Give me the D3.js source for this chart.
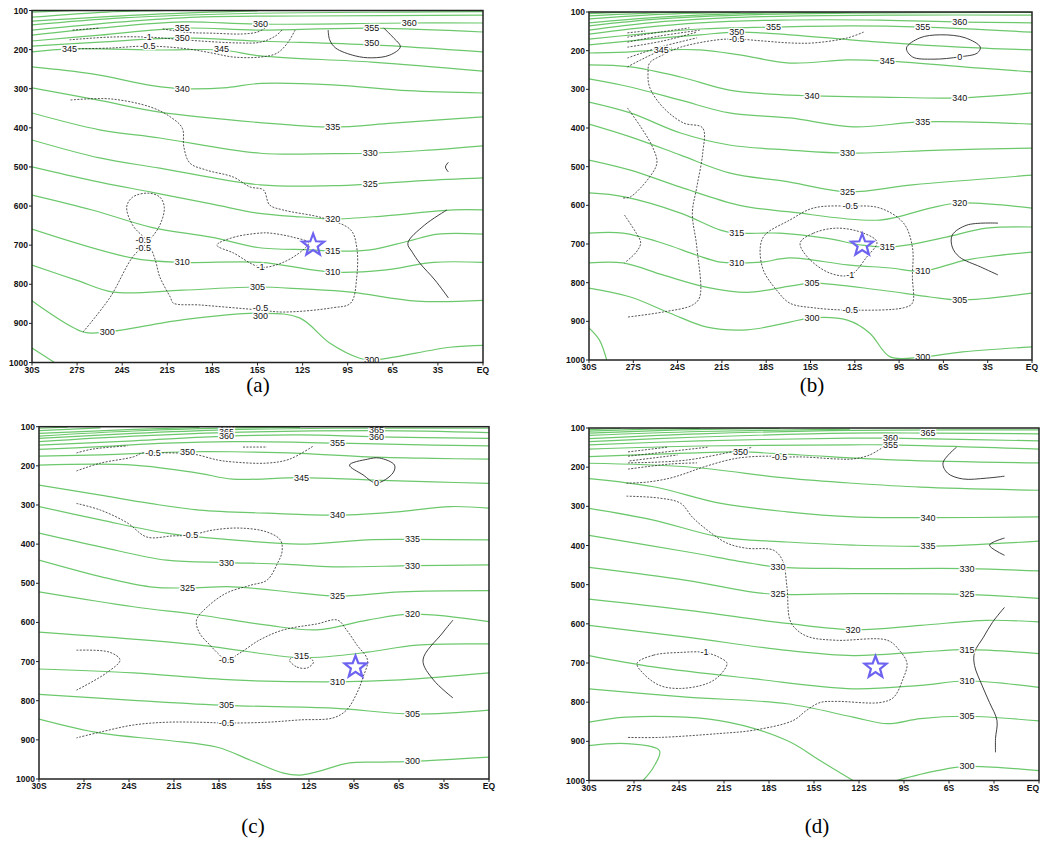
<!DOCTYPE html>
<html><head><meta charset="utf-8">
<script src="https://cdn.jsdelivr.net/npm/d3@7"></script>
<style>body{margin:0;background:#fff;} svg{display:block;}</style>
</head><body>
<svg id="chart" width="1041" height="841"></svg>
<script>
// ---------- axes ----------
const latTicks = [-30,-27,-24,-21,-18,-15,-12,-9,-6,-3,0];
const presTicks = [100,200,300,400,500,600,700,800,900,1000];
const panelNames = ["(a)","(b)","(c)","(d)"];

// ---------- panel (a) ----------
const thetaA = [
 {v:385, pts:[[-30,104],[-27,100]]},
 {v:380, pts:[[-30,117],[-25,104],[-21,100]]},
 {v:375, pts:[[-30,127],[-22,110],[-15,101]]},
 {v:370, pts:[[-30,137],[-24,119],[-15,107],[-5,104],[0,103]]},
 {v:365, pts:[[-30,150],[-24,129],[-19,117],[-12,114],[0,112]]},
 {v:360, pts:[[-30,163],[-25.5,145],[-20,129],[-15,135],[-5,132],[0,132]]},
 {v:355, pts:[[-30,178],[-25.5,163],[-20,145],[-15,150],[-7.4,145],[0,155]]},
 {v:350, pts:[[-30,191],[-25.5,181],[-20,170],[-15,178],[-7.4,188],[0,206]]},
 {v:345, pts:[[-30,206],[-27.5,198],[-21.5,201],[-17.4,201],[-14.8,216],[-7.4,232],[0,255]]},
 {v:340, pts:[[-30,244],[-26,262],[-22,292],[-20,300],[-17,297],[-15,287],[-10,290],[-5,305],[0,311]]},
 {v:335, pts:[[-30,298],[-25.5,330],[-21.5,360],[-15,386],[-10,398],[-6,388],[0,372]]},
 {v:330, pts:[[-30,362],[-25.5,405],[-21.5,426],[-14.8,465],[-10,466],[-7.5,465],[-4,458],[0,446]]},
 {v:325, pts:[[-30,431],[-25.5,477],[-21.5,503],[-14.8,546],[-10,548],[-7.5,544],[-4,535],[0,528]]},
 {v:320, pts:[[-30,500],[-26,535],[-22,565],[-18,595],[-15,618],[-12,628],[-10,633],[-6.5,625],[-2,610],[0,610]]},
 {v:315, pts:[[-30,572],[-26,610],[-22,655],[-18,680],[-15,706],[-11.5,712],[-10,715],[-7.5,712],[-5,690],[-3,672],[0,672]]},
 {v:310, pts:[[-30,659],[-23.3,733],[-20,744],[-14.8,744],[-10,769],[-6.6,764],[-3.3,744],[0,744]]},
 {v:305, pts:[[-30,751],[-27,790],[-24.6,820],[-20,815],[-15,807],[-12,812],[-8.8,820],[-4.4,843],[0,841]]},
 {v:300, pts:[[-30,842],[-26.6,922],[-25,922],[-20,891],[-14.8,874],[-12.2,886],[-10.2,950],[-8.2,989],[-7.4,994],[-2.2,961],[0,956]]},
 {v:295, pts:[[-30,963],[-28.5,1000]]}
];
const anomA = [
 {v:-0.5, pts:[[-26.6,922],[-24.8,833],[-23.3,730],[-22.3,692],[-21.5,649],[-21.2,603],[-21.5,577],[-22.3,567],[-23.3,577],[-23.7,602],[-23.3,649],[-22.3,692],[-21.8,738],[-21.5,781],[-20.8,833],[-20.6,848],[-18.8,853],[-14.8,866],[-13.3,871],[-10,860],[-8.8,848],[-8.4,782],[-8.4,705],[-8.8,661],[-10.6,631],[-13.3,610],[-14.2,597],[-14.6,559],[-15.5,551],[-16.6,526],[-18.4,508],[-19.5,490],[-19.9,449],[-20,401],[-20.8,372],[-22.1,347],[-24.8,326],[-27.5,329]]},
 {v:-1, closed:true, pts:[[-17.7,700],[-16.6,680],[-14.8,669],[-14.2,669],[-12.6,680],[-11.6,694],[-12,713],[-13.3,744],[-14.8,756],[-16.6,720]]},
 {v:-1.5, pts:[[-27.3,150],[-25.5,145]]},
 {v:-1.5, pts:[[-21.3,147],[-19.7,156],[-18,158],[-16,160],[-15,155],[-14.5,145]]},
 {v:-1, pts:[[-27.5,175],[-24.8,168],[-22.3,168],[-20.5,173],[-18.8,178],[-16.2,183],[-14.8,181],[-13.8,165],[-13.3,147]]},
 {v:-0.5, pts:[[-26.9,198],[-24.8,196],[-22.3,191],[-19.7,198],[-18,209],[-16.6,219],[-14.8,219],[-13.7,209],[-13,183],[-12.5,150]]},
 {v:0, pts:[[-10.3,150],[-10.2,175],[-9.8,196],[-8.5,216],[-7.4,221],[-6.2,214],[-5.5,193],[-6,168],[-6.6,145]]},
 {v:0, pts:[[-2.3,488],[-2.5,500],[-2.3,513]]},
 {v:0, pts:[[-2.4,610],[-3.9,649],[-5,695],[-4.7,718],[-4.2,746],[-3.2,789],[-2.3,835]]}
];
const labelsA = [
 ["355",-20,145],["350",-20,170],["345",-27.5,198],["345",-17.4,198],["360",-14.8,135],["355",-7.4,145],["350",-7.4,183],["360",-4.9,132],
 ["-1",-22.3,168],["-0.5",-22.3,191],
 ["340",-20,301],["335",-10,398],["330",-7.5,464],["325",-7.5,544],["320",-10,633],["315",-10,715],["310",-20,744],["310",-10,769],
 ["305",-15,807],["300",-25,922],["-0.5",-14.8,860],["300",-14.8,880],["300",-7.4,994],["-1",-14.8,756],["-0.5",-22.6,688],["-0.5",-22.6,708]
];
const starA = [-11.3,700];

// ---------- panel (b) ----------
const thetaB = [
 {v:390, pts:[[-30,104],[-27.2,100]]},
 {v:385, pts:[[-30,110],[-25.9,103],[-22.5,100]]},
 {v:380, pts:[[-30,118],[-25.2,106],[-19.8,101]]},
 {v:375, pts:[[-30,128],[-25.2,113],[-19.8,104],[-12.3,101]]},
 {v:370, pts:[[-30,136],[-25.2,118],[-19.8,108],[-12.3,103],[0,101]]},
 {v:365, pts:[[-30,147],[-25.9,128],[-21.1,116],[-15.7,110],[-8.9,108],[0,108]]},
 {v:360, pts:[[-30,157],[-26.5,141],[-22.5,128],[-17.1,121],[-10.3,121],[-4.9,126],[0,128]]},
 {v:355, pts:[[-30,170],[-26.5,157],[-22.5,144],[-17.5,139],[-12.3,136],[-7.4,139],[0,152]]},
 {v:350, pts:[[-30,185],[-26.5,172],[-22.5,159],[-20,152],[-16.4,159],[-10.3,178],[-4.9,191],[0,198]]},
 {v:345, pts:[[-30,206],[-27.2,203],[-25.1,198],[-22.5,198],[-19.8,211],[-16.4,232],[-12.5,224],[-9.8,227],[-3.5,245],[0,255]]},
 {v:340, pts:[[-30,237],[-27.2,242],[-23.8,268],[-20.5,302],[-16.4,315],[-14.9,317],[-10.3,320],[-4.9,322],[0,309]]},
 {v:335, pts:[[-30,273],[-27.2,294],[-23.8,328],[-20.5,361],[-16.4,374],[-12.1,397],[-7.4,384],[0,390]]},
 {v:330, pts:[[-30,333],[-27.2,361],[-23.8,413],[-20.5,444],[-16.4,457],[-12.5,465],[-6.2,457],[0,452]]},
 {v:325, pts:[[-30,390],[-27.2,423],[-23.8,470],[-20.5,516],[-16.4,540],[-12.5,565],[-8.1,547],[0,522]]},
 {v:320, pts:[[-30,483],[-27.2,509],[-23.8,553],[-19.8,600],[-16.4,617],[-10.3,638],[-6.9,607],[-4.9,594],[0,607]]},
 {v:315, pts:[[-30,568],[-27.6,578],[-23.8,620],[-21.1,664],[-20,672],[-17.1,672],[-14,685],[-11.5,703],[-9.8,708],[-8.5,703],[-5.8,682],[-3.1,659],[0,656]]},
 {v:310, pts:[[-30,672],[-27.7,672],[-25,698],[-22.7,729],[-21.1,747],[-20,749],[-18.3,747],[-16.4,736],[-12.5,754],[-9.6,762],[-7.4,770],[-4.4,741],[0,721]]},
 {v:305, pts:[[-30,749],[-27.7,749],[-25,780],[-22,812],[-19.3,825],[-16.4,809],[-14.9,801],[-10.3,819],[-6.9,837],[-4.9,845],[0,827]]},
 {v:300, pts:[[-30,814],[-27.2,837],[-24.5,879],[-22,915],[-19.3,922],[-16.4,902],[-14.9,891],[-12.5,897],[-11,930],[-9.6,992],[-7.4,992],[-4.7,979],[0,966]]},
 {v:295, pts:[[-30,917],[-29.3,948],[-28.8,1000]]}
];
const anomB = [
 {v:-0.5, pts:[[-11.4,152],[-12.5,167],[-14.8,180],[-16.4,180],[-18.2,175],[-20,170],[-21.3,172],[-23.8,191],[-25,211],[-25.9,232],[-26,255],[-25.9,294],[-25,346],[-23.6,387],[-22.3,400],[-22.3,465],[-22.7,553],[-23,620],[-22.7,708],[-22.5,837],[-23,858],[-25,876],[-27.4,889]]},
 {v:-0.5, pts:[[-27.4,242],[-26.5,224],[-25.5,206],[-24.4,193]]},
 {v:-1, pts:[[-27.4,154],[-26.2,149]]},
 {v:-1, pts:[[-27.4,165],[-25.2,152],[-23.2,141]]},
 {v:-1, pts:[[-27.4,178],[-25.2,162],[-22.5,147]]},
 {v:-1, pts:[[-27.4,191],[-25,175],[-22.7,152]]},
 {v:-1, pts:[[-27.4,219],[-25.2,191],[-22.7,167]]},
 {v:-0.5, pts:[[-27.4,348],[-26.5,397],[-25.7,449],[-25.4,490],[-25.9,527],[-27.2,578],[-27.7,581]]},
 {v:-0.5, pts:[[-27.6,625],[-26.8,672],[-26.5,697],[-26.8,721],[-27.6,749]]},
 {v:-0.5, closed:true, pts:[[-14.8,607],[-12.3,602],[-10.3,607],[-8.7,646],[-8.1,708],[-8.1,785],[-8.1,853],[-8.7,865],[-12.3,871],[-14.8,865],[-16.4,853],[-17.3,819],[-18.2,767],[-18.4,708],[-18.1,677],[-16.4,638]]},
 {v:-1, closed:true, pts:[[-15.7,697],[-14.8,672],[-13.2,659],[-11.4,672],[-10.5,695],[-11.2,734],[-12.3,780],[-13.7,775],[-15.2,734]]},
 {v:0, closed:true, pts:[[-8.5,193],[-7.6,167],[-6.2,159],[-4.5,167],[-3.5,191],[-3.7,206],[-4.9,216],[-6.7,222],[-8.1,216]]},
 {v:0, pts:[[-2.3,646],[-4.4,651],[-5.4,677],[-5.4,708],[-4.9,734],[-3.5,759],[-2.3,780]]}
];
const labelsB = [
 ["345",-25.1,198],["345",-9.8,227],["340",-14.9,317],["340",-4.9,322],["335",-7.4,384],["330",-12.5,465],["325",-12.5,565],["320",-4.9,594],
 ["315",-20,672],["315",-9.8,708],["310",-20,749],["310",-7.4,770],["305",-14.9,801],["305",-4.9,845],["300",-14.9,891],["300",-7.4,992],
 ["350",-20,152],["-0.5",-20,170],["355",-17.5,139],["355",-7.4,139],["360",-4.9,126],["0",-4.9,216],["-0.5",-12.3,602],["-1",-12.3,780],["-0.5",-12.3,871]
];
const starB = [-11.5,703];

// ---------- panel (c) ----------
const thetaC = [
 {v:390, pts:[[-30,104],[-28.1,101]]},
 {v:385, pts:[[-30,110],[-25.9,103]]},
 {v:380, pts:[[-30,117],[-23.7,107],[-19.3,102]]},
 {v:375, pts:[[-30,124],[-23.7,111],[-17.1,103],[-12.6,102]]},
 {v:370, pts:[[-30,130],[-23.7,117],[-17.5,108],[-10.4,104],[0,104]]},
 {v:365, pts:[[-30,138],[-23.7,124],[-17.5,115],[-7.5,110],[0,115]]},
 {v:360, pts:[[-30,147],[-23.7,136],[-17.5,124],[-12.6,121],[-7.5,126],[0,130]]},
 {v:355, pts:[[-30,158],[-25.9,151],[-21.5,142],[-17.1,138],[-10.1,142],[-3.7,147],[0,149]]},
 {v:350, pts:[[-30,175],[-25.9,172],[-20.1,164],[-17.1,164],[-12.6,168],[-8.1,177],[-3.7,181],[0,183]]},
 {v:345, pts:[[-30,198],[-23.7,198],[-19.3,219],[-17.1,234],[-12.5,230],[-8.1,236],[-3.7,241],[0,245]]},
 {v:340, pts:[[-30,249],[-25.9,275],[-22.6,296],[-19.3,313],[-14.8,321],[-10.1,326],[-5.9,317],[-2.6,304],[0,308]]},
 {v:335, pts:[[-30,304],[-25.9,338],[-21.5,372],[-17.1,389],[-12.6,400],[-8.1,389],[-5.1,388],[0,389]]},
 {v:330, pts:[[-30,372],[-25.9,407],[-21.5,441],[-17.5,447],[-13.7,451],[-10.4,458],[-5.1,455],[0,453]]},
 {v:325, pts:[[-30,441],[-25.9,483],[-22.6,509],[-20.1,512],[-17.1,509],[-12.6,525],[-10.1,533],[-5.9,522],[0,519]]},
 {v:320, pts:[[-30,522],[-23.7,560],[-19.3,581],[-14.8,607],[-11.5,619],[-8.1,594],[-5.1,579],[0,598]]},
 {v:315, pts:[[-30,625],[-19.3,658],[-13.1,689],[-11.3,689],[-8.1,676],[-4.8,658],[0,655]]},
 {v:310, pts:[[-30,719],[-23.7,729],[-17.1,747],[-10.1,752],[-5.9,747],[0,729]]},
 {v:305, pts:[[-30,784],[-23.7,799],[-17.5,812],[-10.4,819],[-5.1,834],[0,824]]},
 {v:300, pts:[[-30,847],[-25.9,883],[-21.5,901],[-18.1,919],[-15.9,952],[-13.7,985],[-12.6,990],[-11.5,982],[-9.3,959],[-7.1,957],[-5.1,955],[0,944]]}
];
const anomC = [
 {v:-1, pts:[[-27.5,167],[-26.4,157],[-24.1,149]]},
 {v:-0.5, pts:[[-27.5,213],[-25.9,193],[-23.7,177],[-23.1,167],[-22.4,167],[-21.1,167],[-19.7,170],[-18.1,185],[-17.1,190],[-14.8,193],[-13.3,183],[-11.7,149]]},
 {v:-1, pts:[[-16.4,152],[-14.8,152]]},
 {v:0, closed:true, pts:[[-9.3,198],[-8.1,183],[-7.3,180],[-6.3,198],[-6.4,218],[-7.5,244],[-8.4,223]]},
 {v:-0.5, pts:[[-27.5,296],[-25.9,313],[-24.1,346],[-22.8,382],[-21.1,379],[-19.9,377],[-18.4,364],[-16.6,359],[-14.8,369],[-13.9,390],[-13.8,420],[-14.1,449],[-14.8,492],[-15.9,505],[-17.5,525],[-18.8,561],[-19.5,594],[-19.3,627],[-18.6,658],[-18.1,678],[-17.5,696],[-16.6,678],[-15.3,645],[-13.7,619],[-11.5,604],[-10.1,594],[-9.5,619],[-8.8,658],[-8.1,696],[-8.4,740],[-8.8,780],[-9.5,824],[-10.4,844],[-12.6,849],[-14.8,855],[-17.5,857],[-19.3,855],[-21.5,855],[-23.7,862],[-25.9,880],[-27.5,895]]},
 {v:-1, closed:true, pts:[[-13.3,696],[-12.8,714],[-12.1,716],[-11.7,701],[-12.1,688],[-12.8,686]]},
 {v:-0.5, pts:[[-27.5,671],[-25.3,676],[-24.6,696],[-25.5,729],[-27.5,773]]},
 {v:0, pts:[[-2.4,594],[-3.1,627],[-4.4,696],[-3.7,747],[-2.4,793]]}
];
const labelsC = [
 ["370",-17.5,104],["365",-17.5,114],["360",-17.5,124],["365",-7.5,109],["360",-7.5,127],["355",-10.1,142],["350",-20.1,164],["-0.5",-22.4,167],
 ["345",-12.5,230],["0",-7.5,244],["340",-10.1,326],["335",-5.1,388],["-0.5",-19.9,377],["330",-17.5,447],["330",-5.1,455],["325",-20.1,512],
 ["325",-10.1,533],["320",-5.1,579],["315",-12.5,686],["-0.5",-17.5,696],["310",-10.1,752],["305",-17.5,812],["305",-5.1,834],["-0.5",-17.5,857],["300",-5.1,955]
];
const starC = [-8.9,714];

// ---------- panel (d) ----------
const thetaD = [
 {v:390, pts:[[-30,104],[-27.9,101]]},
 {v:385, pts:[[-30,108],[-25.9,103],[-22.6,101]]},
 {v:380, pts:[[-30,113],[-23.9,105],[-17.3,101]]},
 {v:375, pts:[[-30,119],[-22.6,109],[-12.6,103]]},
 {v:370, pts:[[-30,127],[-22.6,115],[-12.6,106],[0,105]]},
 {v:365, pts:[[-30,135],[-22.6,123],[-12.6,113],[-7.4,113],[0,115]]},
 {v:360, pts:[[-30,143],[-22.6,133],[-12.6,126],[-9.9,126],[0,133]]},
 {v:355, pts:[[-30,154],[-22.6,146],[-12.6,143],[-9.9,143],[0,154]]},
 {v:350, pts:[[-30,173],[-23.5,164],[-19.9,161],[-15.9,169],[-9.3,182],[0,189]]},
 {v:345, pts:[[-30,190],[-23.5,199],[-16.8,228],[-12.4,241],[-7.9,251],[0,259]]},
 {v:340, pts:[[-30,229],[-25.7,250],[-21.3,292],[-16.8,314],[-12.4,327],[-7.4,329],[0,327]]},
 {v:335, pts:[[-30,305],[-25.7,335],[-21.3,378],[-16.8,391],[-12.4,399],[-7.4,402],[0,389]]},
 {v:330, pts:[[-30,374],[-23.5,416],[-19.1,446],[-17.4,455],[-12.4,459],[-4.8,459],[0,465]]},
 {v:325, pts:[[-30,456],[-23.5,489],[-19.1,519],[-17.4,525],[-12.4,523],[-4.8,525],[0,535]]},
 {v:320, pts:[[-30,537],[-23.5,565],[-16.8,599],[-12.4,615],[-7.9,604],[-3.5,591],[0,595]]},
 {v:315, pts:[[-30,604],[-23.5,634],[-16.8,668],[-12.4,681],[-7.9,672],[-4.8,666],[0,676]]},
 {v:310, pts:[[-30,681],[-25.7,710],[-19.1,740],[-12.4,766],[-7.9,757],[-4.8,746],[0,762]]},
 {v:305, pts:[[-30,766],[-23.5,787],[-16.8,804],[-12.4,838],[-10.1,855],[-7.9,842],[-4.8,836],[0,848]]},
 {v:300, pts:[[-30,851],[-27.5,838],[-21.3,847],[-16.8,898],[-14.6,949],[-12.4,1000]]},
 {v:300, pts:[[-9.5,1000],[-6.8,975],[-4.8,964],[0,975]]},
 {v:295, pts:[[-30,911],[-27.5,906],[-25.3,924],[-25.7,966],[-26.4,1000]]}
];
const anomD = [
 {v:-0.5, pts:[[-27.5,241],[-26.1,238],[-24.6,228],[-23.5,215],[-22.4,200],[-20.1,177],[-17.9,172],[-17.3,174],[-15.7,174],[-13.5,179],[-12.4,179],[-11.3,169],[-10.4,149]]},
 {v:-1, pts:[[-27.4,161],[-24.8,149]]},
 {v:-1, pts:[[-27.4,172],[-22.1,149]]},
 {v:-1, pts:[[-27.3,184],[-24.1,169]]},
 {v:-1, pts:[[-27.4,189],[-23.5,182],[-19.1,149]]},
 {v:-1, pts:[[-27.4,205],[-24.6,192],[-22.8,189]]},
 {v:-0.5, pts:[[-27.5,274],[-25.3,279],[-23.9,292],[-23.1,328],[-22.1,361],[-20.8,394],[-19.5,407],[-17.7,412],[-17.1,438],[-16.8,507],[-16.6,591],[-16.1,617],[-15.3,634],[-13.5,642],[-10.1,642],[-9.3,668],[-8.8,701],[-9.1,744],[-9.7,788],[-10.6,801],[-13.5,798],[-14.6,801],[-15.5,821],[-16.4,847],[-19.1,872],[-21.3,880],[-25.3,890],[-27.5,890]]},
 {v:-1, closed:true, pts:[[-26.8,701],[-25.7,680],[-23.9,673],[-22.3,673],[-21.3,686],[-20.8,701],[-21.3,732],[-22.1,752],[-23.9,765],[-25.3,757],[-26.4,726]]},
 {v:0, pts:[[-5.5,149],[-6.4,189],[-6.1,215],[-5.1,230],[-3.5,228],[-2.3,223]]},
 {v:0, pts:[[-2.3,381],[-3.3,399],[-2.3,425]]},
 {v:0, pts:[[-2.3,558],[-3.1,596],[-3.7,634],[-4.3,673],[-4.3,706],[-3.8,757],[-3.3,801],[-2.8,847],[-2.9,893],[-2.9,928]]}
];
const labelsD = [
 ["365",-7.4,113],["360",-9.9,126],["355",-9.9,143],["350",-19.9,161],["-0.5",-17.3,173],["340",-7.4,329],["335",-7.4,402],
 ["330",-17.4,455],["330",-4.8,459],["325",-17.4,525],["325",-4.8,525],["320",-12.4,615],["315",-4.8,666],["310",-4.8,746],
 ["305",-4.8,836],["300",-4.8,964],["-1",-22.3,673]
];
const starD = [-10.9,711];

// ---------- layout ----------
const panels = [
 {name:panelNames[0], theta:thetaA, anom:anomA, labels:labelsA, star:starA, box:[32,483,10.5,362.5], cap:[258,385]},
 {name:panelNames[1], theta:thetaB, anom:anomB, labels:labelsB, star:starB, box:[589,1032,12,360], cap:[812,385]},
 {name:panelNames[2], theta:thetaC, anom:anomC, labels:labelsC, star:starC, box:[39,489,426.7,779], cap:[253,826]},
 {name:panelNames[3], theta:thetaD, anom:anomD, labels:labelsD, star:starD, box:[589,1039,428,780.5], cap:[817,826]}
];

const svg = d3.select("#chart");
const GREEN = "#6cc86c";

panels.forEach((P, i) => {
  const [x0,x1,y0,y1] = P.box;
  const x = d3.scaleLinear().domain([-30,0]).range([x0,x1]);
  const y = d3.scaleLinear().domain([100,1000]).range([y0,y1]);
  const g = svg.append("g");
  const clipId = "clip"+i;
  svg.append("clipPath").attr("id",clipId).append("rect")
    .attr("x",x0).attr("y",y0).attr("width",x1-x0).attr("height",y1-y0);
  const plot = g.append("g").attr("clip-path",`url(#${clipId})`);

  const lineOpen = d3.line().x(d=>x(d[0])).y(d=>y(d[1])).curve(d3.curveCatmullRom.alpha(0.5));
  const lineClosed = d3.line().x(d=>x(d[0])).y(d=>y(d[1])).curve(d3.curveCatmullRomClosed.alpha(0.5));

  plot.selectAll("path.theta").data(P.theta).join("path")
    .attr("class","theta")
    .attr("d", d=>lineOpen(d.pts))
    .attr("fill","none").attr("stroke",GREEN).attr("stroke-width",1.2);

  plot.selectAll("path.anom").data(P.anom).join("path")
    .attr("class","anom")
    .attr("d", d=> d.closed ? lineClosed(d.pts) : lineOpen(d.pts))
    .attr("fill","none").attr("stroke","#2a2a2a")
    .attr("stroke-width", d=> d.v<0 ? 0.8 : 0.9)
    .attr("stroke-dasharray", d=> d.v<0 ? "2,1.4" : null);

  // contour labels
  plot.selectAll("text.lab").data(P.labels).join("text")
    .attr("class","lab")
    .attr("x", d=>x(d[1])).attr("y", d=>y(d[2]))
    .attr("text-anchor","middle").attr("dominant-baseline","central")
    .attr("font-family","Liberation Sans, Arial, sans-serif")
    .attr("font-size",9).attr("fill","#111")
    .attr("stroke","#fff").attr("stroke-width",2.5).attr("paint-order","stroke")
    .text(d=>d[0]);

  // star
  const cx = x(P.star[0]), cy = y(P.star[1]);
  const starPts = d3.range(10).map(k => {
    const r = k%2===0 ? 11.5 : 4.8;
    const a = -Math.PI/2 + k*Math.PI/5;
    return [cx + r*Math.cos(a), cy + r*Math.sin(a)];
  });
  g.append("path").attr("d", "M"+starPts.map(p=>p.join(",")).join("L")+"Z")
    .attr("fill","none").attr("stroke","#6d63f0").attr("stroke-width",2.2)
    .attr("stroke-linejoin","miter");

  // frame
  g.append("rect").attr("x",x0).attr("y",y0).attr("width",x1-x0).attr("height",y1-y0)
    .attr("fill","none").attr("stroke","#222").attr("stroke-width",1.5);

  // y ticks
  const yAx = g.append("g");
  yAx.selectAll("line").data(presTicks).join("line")
    .attr("x1",x0-3).attr("x2",x0).attr("y1",d=>y(d)).attr("y2",d=>y(d))
    .attr("stroke","#222").attr("stroke-width",1);
  yAx.selectAll("text").data(presTicks).join("text")
    .attr("x",x0-4).attr("y",d=>y(d)).attr("text-anchor","end").attr("dominant-baseline","central")
    .attr("font-family","Liberation Sans, Arial, sans-serif").attr("font-size",8.5).attr("font-weight","bold")
    .attr("fill","#111").text(d=>d);
  // x ticks
  const xAx = g.append("g");
  xAx.selectAll("line").data(latTicks).join("line")
    .attr("x1",d=>x(d)).attr("x2",d=>x(d)).attr("y1",y1).attr("y2",y1+3)
    .attr("stroke","#222").attr("stroke-width",1);
  xAx.selectAll("text").data(latTicks).join("text")
    .attr("x",d=>Math.min(x(d), 1041-8)).attr("y",y1+7).attr("text-anchor","middle").attr("dominant-baseline","central")
    .attr("font-family","Liberation Sans, Arial, sans-serif").attr("font-size",8.5).attr("font-weight","bold")
    .attr("fill","#111").text(d=> d===0 ? "EQ" : (-d)+"S");

  // caption
  g.append("text").attr("x",P.cap[0]).attr("y",P.cap[1]).attr("text-anchor","middle")
    .attr("dominant-baseline","central")
    .attr("font-family","Liberation Serif, Times New Roman, serif").attr("font-size",21)
    .attr("fill","#000").text(P.name);
});
</script>
</body></html>
